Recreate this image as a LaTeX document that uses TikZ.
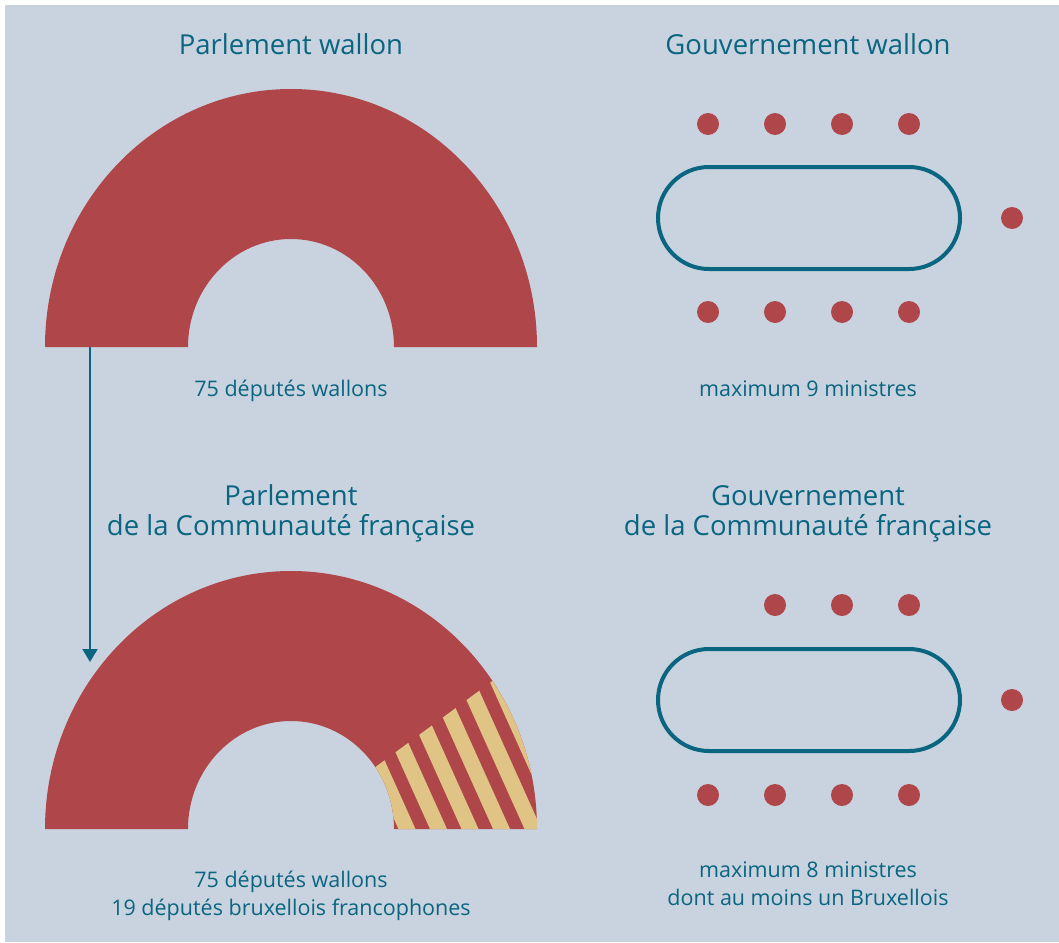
\documentclass[tikz,border=0pt]{standalone}
\usepackage{fontspec}
\setmainfont{Open Sans}
\usetikzlibrary{arrows.meta}
\definecolor{bgc}{HTML}{C9D3DF}
\definecolor{redc}{HTML}{AF4649}
\definecolor{yelc}{HTML}{DFC485}
\definecolor{tealc}{HTML}{0A6581}
\tikzset{
  title/.style={text=tealc, font=\fontsize{27.5}{30}\selectfont, anchor=base, inner sep=0pt, align=center},
  label/.style={text=tealc, font=\fontsize{21.5}{28}\selectfont, anchor=base, inner sep=0pt, align=center},
  dot/.style={fill=redc, circle, minimum size=22pt, inner sep=0pt},
  table/.style={draw=tealc, line width=4pt, rounded corners=51pt},
  ring/.style={fill=redc},
  arr/.style={draw=tealc, line width=2pt, -{Triangle[width=15pt,length=13pt]}}
}
\begin{document}
\begin{tikzpicture}[x=1pt,y=1pt]
\useasboundingbox (0,0) rectangle (1059,-942);
\fill[white] (0,0) rectangle (1059,-942);
\fill[bgc] (5,-5) rectangle (1059,-942);

% titles
\node[title] (t1) at (291,-55) {Parlement wallon};
\node[title] (t2) at (808,-55) {Gouvernement wallon};
\node[label] (l1) at (291,-396) {75 députés wallons};
\node[label] (l2) at (808,-396) {maximum 9 ministres};
\node[title] (t3) at (291,-535) {Parlement\\de la Communauté française};
\node[title] (t4) at (808,-535) {Gouvernement\\de la Communauté française};
\node[label] (l3) at (291,-915) {75 députés wallons\\19 députés bruxellois francophones};
\node[label] (l4) at (808,-905) {maximum 8 ministres\\dont au moins un Bruxellois};

% top hemicycle
\fill[ring] (45,-347) arc[start angle=180,end angle=0,x radius=246,y radius=258]
  -- (394,-347) arc[start angle=0,end angle=180,x radius=103,y radius=108] -- cycle;

% bottom hemicycle
\fill[ring] (45,-829) arc[start angle=180,end angle=0,x radius=246,y radius=258]
  -- (394,-829) arc[start angle=0,end angle=180,x radius=103,y radius=108] -- cycle;
\begin{scope}
  \clip (45,-829) arc[start angle=180,end angle=0,x radius=246,y radius=258]
  -- (394,-829) arc[start angle=0,end angle=180,x radius=103,y radius=108] -- cycle;
  \clip (291,-829) -- ++(36.3:400) -- (700,-829) -- cycle;
  \foreach \k in {-4,...,6}{
    \pgfmathsetmacro{\xx}{438.5+31.5*\k}
    \draw[yelc, line width=15.5pt] (\xx+4.5,-839) -- (\xx-135,-529);
  }
\end{scope}

% arrow
\coordinate (a1) at (90,-347);
\coordinate (a2) at (90,-662);
\draw[arr] (a1) -- (a2);

% government wallon
\draw[table] (658,-167) rectangle (960,-269);
\foreach \x [count=\i] in {708,775,842,909}{
  \node[dot] (gt\i) at (\x,-124) {};
  \node[dot] (gb\i) at (\x,-312) {};
}
\node[dot] (gr) at (1012,-218) {};

% government communaute
\draw[table] (658,-649) rectangle (960,-751);
\foreach \x [count=\i] in {775,842,909}{
  \node[dot] (ct\i) at (\x,-605) {};
}
\foreach \x [count=\i] in {708,775,842,909}{
  \node[dot] (cb\i) at (\x,-795) {};
}
\node[dot] (cr) at (1012,-700) {};
\end{tikzpicture}
\end{document}
